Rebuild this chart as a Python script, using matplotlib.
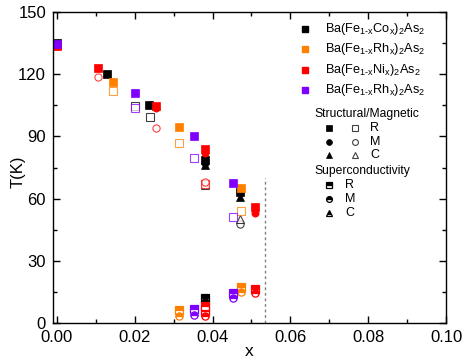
import matplotlib
matplotlib.use("Agg")
import matplotlib.pyplot as plt

plt.rcParams['font.family'] = ['Liberation Sans', 'DejaVu Sans']
plt.rcParams['mathtext.fontset'] = 'custom'
plt.rcParams['mathtext.rm'] = 'Liberation Sans'
plt.rcParams['mathtext.it'] = 'Liberation Sans'

# compounds, drawing order and colours
names = [r'Ba(Fe$_{1\text{-}x}$Co$_x$)$_2$As$_2$',
         r'Ba(Fe$_{1\text{-}x}$Rh$_x$)$_2$As$_2$',
         r'Ba(Fe$_{1\text{-}x}$Ni$_x$)$_2$As$_2$',
         r'Ba(Fe$_{1\text{-}x}$Rh$_x$)$_2$As$_2$']
colors = ['black', '#ff8000', '#ff0000', '#8000ff']

# structural transition (filled), by method R / M / C
co_sR_x = [0, 0.013, 0.0238, 0.038, 0.047]
co_sR_T = [135, 120, 105.2, 78.6, 63]
co_sM_x = [0.038]
co_sM_T = [77]
co_sC_x = [0.038, 0.047]
co_sC_T = [76, 60.6]
# magnetic transition (open)
co_mR_x = [0.0201, 0.024]
co_mR_T = [104.8, 99.2]
co_mM_x = [0.047]
co_mM_T = [48]
co_mC_x = [0.038, 0.047]
co_mC_T = [66.5, 50]
# superconductivity (half filled)
co_scR_x = [0.038]
co_scR_T = [12.3]
co_scM_x = [0.038]
co_scM_T = [10]

rh_sR_x = [0, 0.0144, 0.0313, 0.0472]
rh_sR_T = [134, 116, 94.7, 65]
rh_mR_x = [0.0144, 0.0313, 0.0472]
rh_mR_T = [112, 86.7, 54]
rh_scR_x = [0.0313, 0.0472]
rh_scR_T = [6.3, 17.5]
rh_scM_x = [0.0313, 0.0472]
rh_scM_T = [3.5, 15]

ni_sR_x = [0, 0.0106, 0.0255, 0.0381, 0.051]
ni_sR_T = [133.5, 122.8, 104.5, 84, 56]
ni_sM_x = [0.0255, 0.0381, 0.051]
ni_sM_T = [103.5, 82, 53]
ni_mR_x = [0.0381]
ni_mR_T = [67]
ni_mM_x = [0.0106, 0.0255, 0.0381]
ni_mM_T = [118.8, 94, 68]
ni_scR_x = [0.0381, 0.0381, 0.051]
ni_scR_T = [8, 6, 16.4]
ni_scM_x = [0.0381, 0.051]
ni_scM_T = [3.5, 14.3]

rh2_sR_x = [0, 0.0201, 0.0352, 0.0453]
rh2_sR_T = [134.4, 110.8, 90.2, 67.4]
rh2_mR_x = [0.0201, 0.0352, 0.0453]
rh2_mR_T = [103.9, 79.7, 51]
rh2_scR_x = [0.0352, 0.0453]
rh2_scR_T = [7, 14.3]
rh2_scM_x = [0.0352, 0.0453]
rh2_scM_T = [3.9, 12]

sc_limit_x = 0.0536
sc_limit_T = [0, 70]

series = [
    # (colour index, kind, marker, x, T)
    (0, 'full', 's', co_sR_x, co_sR_T), (0, 'full', 'o', co_sM_x, co_sM_T),
    (0, 'full', '^', co_sC_x, co_sC_T), (0, 'open', 's', co_mR_x, co_mR_T),
    (0, 'open', 'o', co_mM_x, co_mM_T), (0, 'open', '^', co_mC_x, co_mC_T),
    (0, 'half', 's', co_scR_x, co_scR_T), (0, 'half', 'o', co_scM_x, co_scM_T),
    (1, 'full', 's', rh_sR_x, rh_sR_T), (1, 'open', 's', rh_mR_x, rh_mR_T),
    (1, 'half', 's', rh_scR_x, rh_scR_T), (1, 'half', 'o', rh_scM_x, rh_scM_T),
    (2, 'full', 's', ni_sR_x, ni_sR_T), (2, 'full', 'o', ni_sM_x, ni_sM_T),
    (2, 'open', 's', ni_mR_x, ni_mR_T), (2, 'open', 'o', ni_mM_x, ni_mM_T),
    (2, 'half', 's', ni_scR_x, ni_scR_T), (2, 'half', 'o', ni_scM_x, ni_scM_T),
    (3, 'full', 's', rh2_sR_x, rh2_sR_T), (3, 'open', 's', rh2_mR_x, rh2_mR_T),
    (3, 'half', 's', rh2_scR_x, rh2_scR_T), (3, 'half', 'o', rh2_scM_x, rh2_scM_T),
]


def style(kind, color, ms):
    if kind == 'full':
        return dict(color=color, markeredgecolor=color, markersize=ms, markeredgewidth=0.5)
    if kind == 'open':
        return dict(color=color, markerfacecolor='white', markeredgecolor=color,
                    markersize=ms, markeredgewidth=0.8, alpha=0.75)
    return dict(color=color, fillstyle='top', markerfacecoloralt='white',
                markeredgecolor=color, markersize=ms, markeredgewidth=0.9)


fig = plt.figure(figsize=(4.71, 3.63), dpi=100)
ax = fig.add_axes([0.1125, 0.110, 0.8345, 0.857])

for ci, kind, mk, xs, ts in series:
    ax.plot(xs, ts, linestyle='none', marker=mk, **style(kind, colors[ci], 5.2))

ax.plot([sc_limit_x, sc_limit_x], sc_limit_T, color='gray', linestyle=(0, (2, 2)), lw=1)

ax.set_xlim(-0.001, 0.1)
ax.set_ylim(0, 150)
ax.set_xticks([0, 0.02, 0.04, 0.06, 0.08, 0.10])
ax.set_xticks([0.01, 0.03, 0.05, 0.07, 0.09], minor=True)
ax.set_yticks([0, 30, 60, 90, 120, 150])
ax.set_yticks([15, 45, 75, 105, 135], minor=True)
ax.set_xticklabels(['0.00', '0.02', '0.04', '0.06', '0.08', '0.10'])
ax.tick_params(which='both', direction='in', top=True, right=True, labelsize=12)
ax.tick_params(which='major', length=5, width=1)
ax.tick_params(which='minor', length=3, width=1)
ax.tick_params(axis='x', pad=5)
ax.tick_params(axis='y', pad=5)
for sp in ax.spines.values():
    sp.set_linewidth(1)
ax.set_xlabel('x', fontsize=12.5, labelpad=-1)
ax.set_ylabel('T(K)', fontsize=12)
ax.yaxis.set_label_coords(-0.07, 0.485)

# compound legend
leg_y = [0.944, 0.880, 0.814, 0.749]
for i in range(4):
    ax.plot([0.641], [leg_y[i]], 's', color=colors[i], markersize=4.5, transform=ax.transAxes)
    ax.text(0.692, leg_y[i], names[i], fontsize=9.2, va='center', ha='left',
            transform=ax.transAxes)

# method key
methods = ['R', 'M', 'C']
method_marks = ['s', 'o', '^']
ax.text(0.798, 0.672, 'Structural/Magnetic', fontsize=8.7, ha='center', va='center',
        transform=ax.transAxes)
key_y = [0.627, 0.582, 0.540]
for i in range(3):
    ax.plot([0.702], [key_y[i]], method_marks[i], transform=ax.transAxes,
            **style('full', 'black', 4.2))
    ax.plot([0.768], [key_y[i]], method_marks[i], transform=ax.transAxes,
            **style('open', 'black', 4.2))
    ax.text(0.807, key_y[i], methods[i], fontsize=9, ha='left', va='center',
            transform=ax.transAxes)

ax.text(0.787, 0.489, 'Superconductivity', fontsize=8.7, ha='center', va='center',
        transform=ax.transAxes)
sc_y = [0.444, 0.399, 0.354]
for i in range(3):
    ax.plot([0.702], [sc_y[i]], method_marks[i], transform=ax.transAxes,
            **style('half', 'black', 4.2))
    ax.text(0.743, sc_y[i], methods[i], fontsize=9, ha='left', va='center',
            transform=ax.transAxes)

fig.savefig('out.png', dpi=100)
